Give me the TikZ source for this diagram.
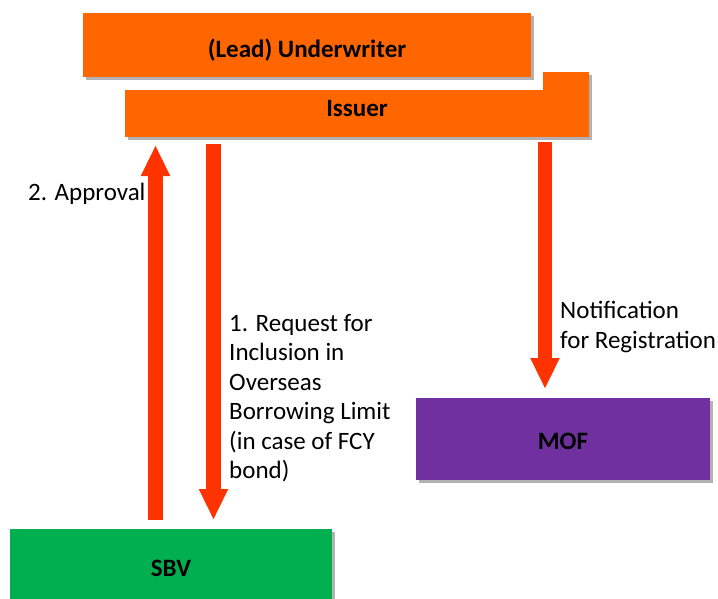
\documentclass[tikz,border=0pt]{standalone}
\usepackage{fontspec}
\setmainfont{Carlito}
\usetikzlibrary{arrows.meta,shadows}
\definecolor{boxorange}{HTML}{FF6600}
\definecolor{boxpurple}{HTML}{7030A0}
\definecolor{boxgreen}{HTML}{00B050}
\definecolor{arrowred}{HTML}{FF3300}
\tikzset{
  boxshadow/.style={drop shadow={shadow xshift=2.5pt,shadow yshift=-3pt,opacity=0.3,fill=black}},
  entity/.style={rectangle,inner sep=0pt,boxshadow},
  boxlabel/.style={font=\fontsize{25}{29}\selectfont\bfseries,inner sep=0pt},
  plainlabel/.style={font=\fontsize{25}{29.5}\selectfont,inner sep=0pt,align=left},
  blockarrow/.style={draw=arrowred,line width=14.5pt,-{Triangle[length=31pt,width=27pt]}}
}
\begin{document}
\begin{tikzpicture}[x=1pt,y=-1pt]
\useasboundingbox (0,0) rectangle (718,598);
\clip (0,0) rectangle (718,598);
% Issuer box (behind)
\node[entity,fill=boxorange,minimum width=464pt,minimum height=65pt] (issuer) at (357,104.5) {};
% white margin around the underwriter box
\node[rectangle,fill=white,inner sep=0pt,minimum width=460pt,minimum height=77pt] (gap) at (313,51.5) {};
% Underwriter box
\node[entity,fill=boxorange,minimum width=448pt,minimum height=64pt] (uw) at (307,45) {};
% MOF and SBV boxes
\node[entity,fill=boxpurple,minimum width=294pt,minimum height=82pt] (mof) at (563,439) {};
\node[entity,fill=boxgreen,minimum width=322pt,minimum height=78pt] (sbv) at (171,568) {};
% box texts
\node[boxlabel,anchor=base] (uwt) at (307,57) {(Lead) Underwriter};
\node[boxlabel,anchor=base] (issuert) at (357,116) {Issuer};
\node[boxlabel,anchor=base] (moft) at (563,449) {MOF};
\node[boxlabel,anchor=base] (sbvt) at (171,576) {SBV};
% arrow end points
\coordinate (appS) at (155.5,520);
\coordinate (appE) at (155.5,145);
\coordinate (reqS) at (213.5,144);
\coordinate (reqE) at (213.5,520);
\coordinate (notS) at (545,142);
\coordinate (notE) at (545,389);
\draw[blockarrow] (appS) -- (appE);
\draw[blockarrow] (reqS) -- (reqE);
\draw[blockarrow] (notS) -- (notE);
% labels
\node[plainlabel,anchor=base west] (applab) at (28,200) {2. Approval};
\node[plainlabel,anchor=base west] (reqlab) at (229,478.5) {1. Request for\\Inclusion in\\Overseas\\Borrowing Limit\\(in case of FCY\\bond)};
\node[plainlabel,anchor=base west] (notlab) at (560,348) {Notification\\for Registration};
\end{tikzpicture}
\end{document}
